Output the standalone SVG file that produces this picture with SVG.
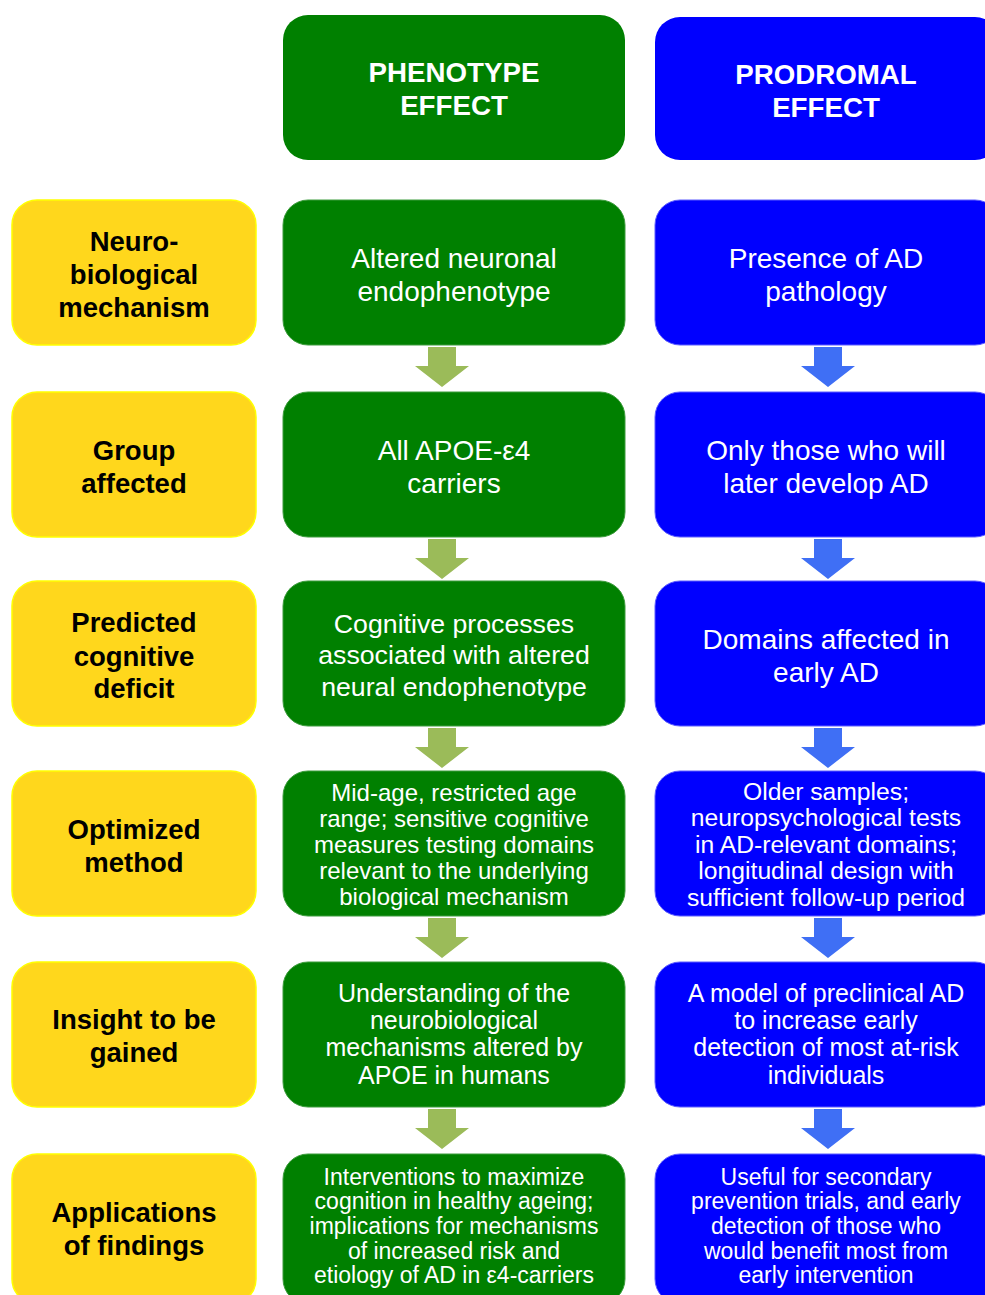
<svg xmlns="http://www.w3.org/2000/svg" width="985" height="1295" viewBox="0 0 985 1295">
<defs>
<style>
.y{fill:#FFD71C;stroke:#FFFF00;stroke-width:1.5}
.g{fill:#008000;stroke:#3c9c3c;stroke-width:1}
.b{fill:#0000FF;stroke:#5c5cff;stroke-width:1}
.gh{fill:#008000}
.bh{fill:#0000FF}
text{font-family:"Liberation Sans",Arial,sans-serif;text-anchor:middle}
.lab{font-weight:bold;font-size:27.5px;fill:#000}
.hd{font-weight:bold;font-size:27.7px;fill:#fff}
.t{fill:#fff}
.ga{fill:#9BBB59}
.ba{fill:#3F6FF5}
</style>
<path id="arr" d="M-14,0 H14 V19 H27 L0,40 L-27,19 H-14 Z"/>
</defs>

<g id="header-phenotype">
<rect class="gh" x="283" y="15" width="342" height="145" rx="25"/>
<text class="hd" x="454" y="82">PHENOTYPE</text>
<text class="hd" x="454" y="115">EFFECT</text>
</g>
<g id="header-prodromal">
<rect class="bh" x="655" y="17" width="345" height="143" rx="25"/>
<text class="hd" x="826" y="84">PRODROMAL</text>
<text class="hd" x="826" y="117">EFFECT</text>
</g>

<g id="label-1">
<rect class="y" x="12" y="200" width="244" height="145" rx="25"/>
<text class="lab" x="134" y="251">Neuro-</text>
<text class="lab" x="134" y="284">biological</text>
<text class="lab" x="134" y="317">mechanism</text>
</g>
<g id="green-1">
<rect class="g" x="283" y="200" width="342" height="145" rx="25"/>
<text class="t" font-size="28" x="454" y="268">Altered neuronal</text>
<text class="t" font-size="28" x="454" y="301">endophenotype</text>
</g>
<g id="blue-1">
<rect class="b" x="655" y="200" width="345" height="145" rx="25"/>
<text class="t" font-size="28" x="826" y="268">Presence of AD</text>
<text class="t" font-size="28" x="826" y="301">pathology</text>
</g>

<g id="label-2">
<rect class="y" x="12" y="392" width="244" height="145" rx="25"/>
<text class="lab" x="134" y="460">Group</text>
<text class="lab" x="134" y="493">affected</text>
</g>
<g id="green-2">
<rect class="g" x="283" y="392" width="342" height="145" rx="25"/>
<text class="t" font-size="28" x="454" y="460">All APOE-ε4</text>
<text class="t" font-size="28" x="454" y="493">carriers</text>
</g>
<g id="blue-2">
<rect class="b" x="655" y="392" width="345" height="145" rx="25"/>
<text class="t" font-size="28" x="826" y="460">Only those who will</text>
<text class="t" font-size="28" x="826" y="493">later develop AD</text>
</g>

<g id="label-3">
<rect class="y" x="12" y="581" width="244" height="145" rx="25"/>
<text class="lab" x="134" y="632">Predicted</text>
<text class="lab" x="134" y="666">cognitive</text>
<text class="lab" x="134" y="698">deficit</text>
</g>
<g id="green-3">
<rect class="g" x="283" y="581" width="342" height="145" rx="25"/>
<text class="t" font-size="26.7" x="454" y="633">Cognitive processes</text>
<text class="t" font-size="26.7" x="454" y="664">associated with altered</text>
<text class="t" font-size="26.7" x="454" y="696">neural endophenotype</text>
</g>
<g id="blue-3">
<rect class="b" x="655" y="581" width="345" height="145" rx="25"/>
<text class="t" font-size="28" x="826" y="649">Domains affected in</text>
<text class="t" font-size="28" x="826" y="682">early AD</text>
</g>

<g id="label-4">
<rect class="y" x="12" y="771" width="244" height="145" rx="25"/>
<text class="lab" x="134" y="839">Optimized</text>
<text class="lab" x="134" y="872">method</text>
</g>
<g id="green-4">
<rect class="g" x="283" y="771" width="342" height="145" rx="25"/>
<text class="t" font-size="24" x="454" y="801">Mid-age, restricted age</text>
<text class="t" font-size="24" x="454" y="827">range; sensitive cognitive</text>
<text class="t" font-size="24" x="454" y="853">measures testing domains</text>
<text class="t" font-size="24" x="454" y="879">relevant to the underlying</text>
<text class="t" font-size="24" x="454" y="905">biological mechanism</text>
</g>
<g id="blue-4">
<rect class="b" x="655" y="771" width="345" height="145" rx="25"/>
<text class="t" font-size="24.7" x="826" y="800">Older samples;</text>
<text class="t" font-size="24.7" x="826" y="826">neuropsychological tests</text>
<text class="t" font-size="24.7" x="826" y="853">in AD-relevant domains;</text>
<text class="t" font-size="24.7" x="826" y="879">longitudinal design with</text>
<text class="t" font-size="24.7" x="826" y="906">sufficient follow-up period</text>
</g>

<g id="label-5">
<rect class="y" x="12" y="962" width="244" height="145" rx="25"/>
<text class="lab" x="134" y="1029">Insight to be</text>
<text class="lab" x="134" y="1062">gained</text>
</g>
<g id="green-5">
<rect class="g" x="283" y="962" width="342" height="145" rx="25"/>
<text class="t" font-size="25" x="454" y="1002">Understanding of the</text>
<text class="t" font-size="25" x="454" y="1029">neurobiological</text>
<text class="t" font-size="25" x="454" y="1056">mechanisms altered by</text>
<text class="t" font-size="25" x="454" y="1084">APOE in humans</text>
</g>
<g id="blue-5">
<rect class="b" x="655" y="962" width="345" height="145" rx="25"/>
<text class="t" font-size="25" x="826" y="1002">A model of preclinical AD</text>
<text class="t" font-size="25" x="826" y="1029">to increase early</text>
<text class="t" font-size="25" x="826" y="1056">detection of most at-risk</text>
<text class="t" font-size="25" x="826" y="1084">individuals</text>
</g>

<g id="label-6">
<rect class="y" x="12" y="1154" width="244" height="150" rx="25"/>
<text class="lab" x="134" y="1222">Applications</text>
<text class="lab" x="134" y="1255">of findings</text>
</g>
<g id="green-6">
<rect class="g" x="283" y="1154" width="342" height="150" rx="25"/>
<text class="t" font-size="23" x="454" y="1185">Interventions to maximize</text>
<text class="t" font-size="23" x="454" y="1209">cognition in healthy ageing;</text>
<text class="t" font-size="23" x="454" y="1234">implications for mechanisms</text>
<text class="t" font-size="23" x="454" y="1259">of increased risk and</text>
<text class="t" font-size="23" x="454" y="1283">etiology of AD in ε4-carriers</text>
</g>
<g id="blue-6">
<rect class="b" x="655" y="1154" width="345" height="150" rx="25"/>
<text class="t" font-size="23" x="826" y="1185">Useful for secondary</text>
<text class="t" font-size="23" x="826" y="1209">prevention trials, and early</text>
<text class="t" font-size="23" x="826" y="1234">detection of those who</text>
<text class="t" font-size="23" x="826" y="1259">would benefit most from</text>
<text class="t" font-size="23" x="826" y="1283">early intervention</text>
</g>

<g id="connectors">
<use href="#arr" class="ga" x="442" y="347"/>
<use href="#arr" class="ga" x="442" y="539"/>
<use href="#arr" class="ga" x="442" y="728"/>
<use href="#arr" class="ga" x="442" y="918"/>
<use href="#arr" class="ga" x="442" y="1109"/>
<use href="#arr" class="ba" x="828" y="347"/>
<use href="#arr" class="ba" x="828" y="539"/>
<use href="#arr" class="ba" x="828" y="728"/>
<use href="#arr" class="ba" x="828" y="918"/>
<use href="#arr" class="ba" x="828" y="1109"/>
</g>
</svg>
